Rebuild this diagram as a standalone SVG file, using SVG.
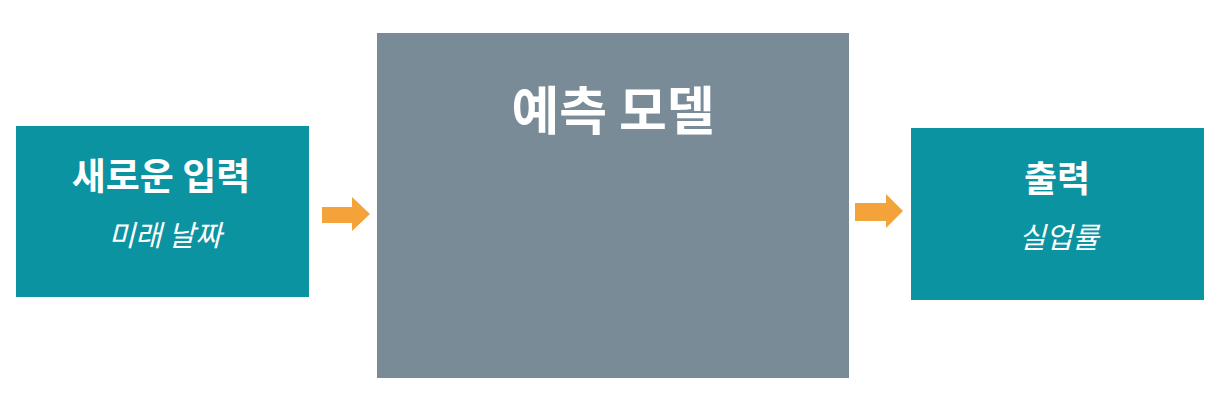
<svg xmlns="http://www.w3.org/2000/svg" width="1220" height="411" viewBox="0 0 1220 411">
<style>
.teal{fill:#0b93a2}
.gray{fill:#798b96}
.arrow{fill:#f4a23a}
.title{font-family:"Noto Sans CJK KR","Noto Sans",sans-serif;font-weight:700;fill:#ffffff;text-anchor:middle}
.sub{font-family:"Noto Sans CJK KR","Noto Sans",sans-serif;font-style:italic;font-weight:400;fill:#ffffff;text-anchor:middle}
</style>
<rect width="1220" height="411" fill="#ffffff"/>
<g id="input">
<rect class="teal" x="16" y="126" width="293" height="171"/>
<text class="title" x="161" y="190" font-size="37">새로운 입력</text>
<text class="sub" x="165" y="246" font-size="29">미래 날짜</text>
</g>
<g id="model">
<rect class="gray" x="377" y="33" width="472" height="345"/>
<text class="title" x="613" y="130" font-size="52">예측 모델</text>
</g>
<g id="output">
<rect class="teal" x="911" y="128" width="293" height="172"/>
<text class="title" x="1057" y="192" font-size="36">출력</text>
<text class="sub" x="1059" y="248" font-size="29">실업률</text>
</g>
<g id="connectors">
<polygon class="arrow" points="322,207 352,207 352,197 370,214 352,231 352,223 322,223"/>
<polygon class="arrow" points="855,203 886,203 886,194 903,211 886,228 886,221 855,221"/>
</g>
</svg>
